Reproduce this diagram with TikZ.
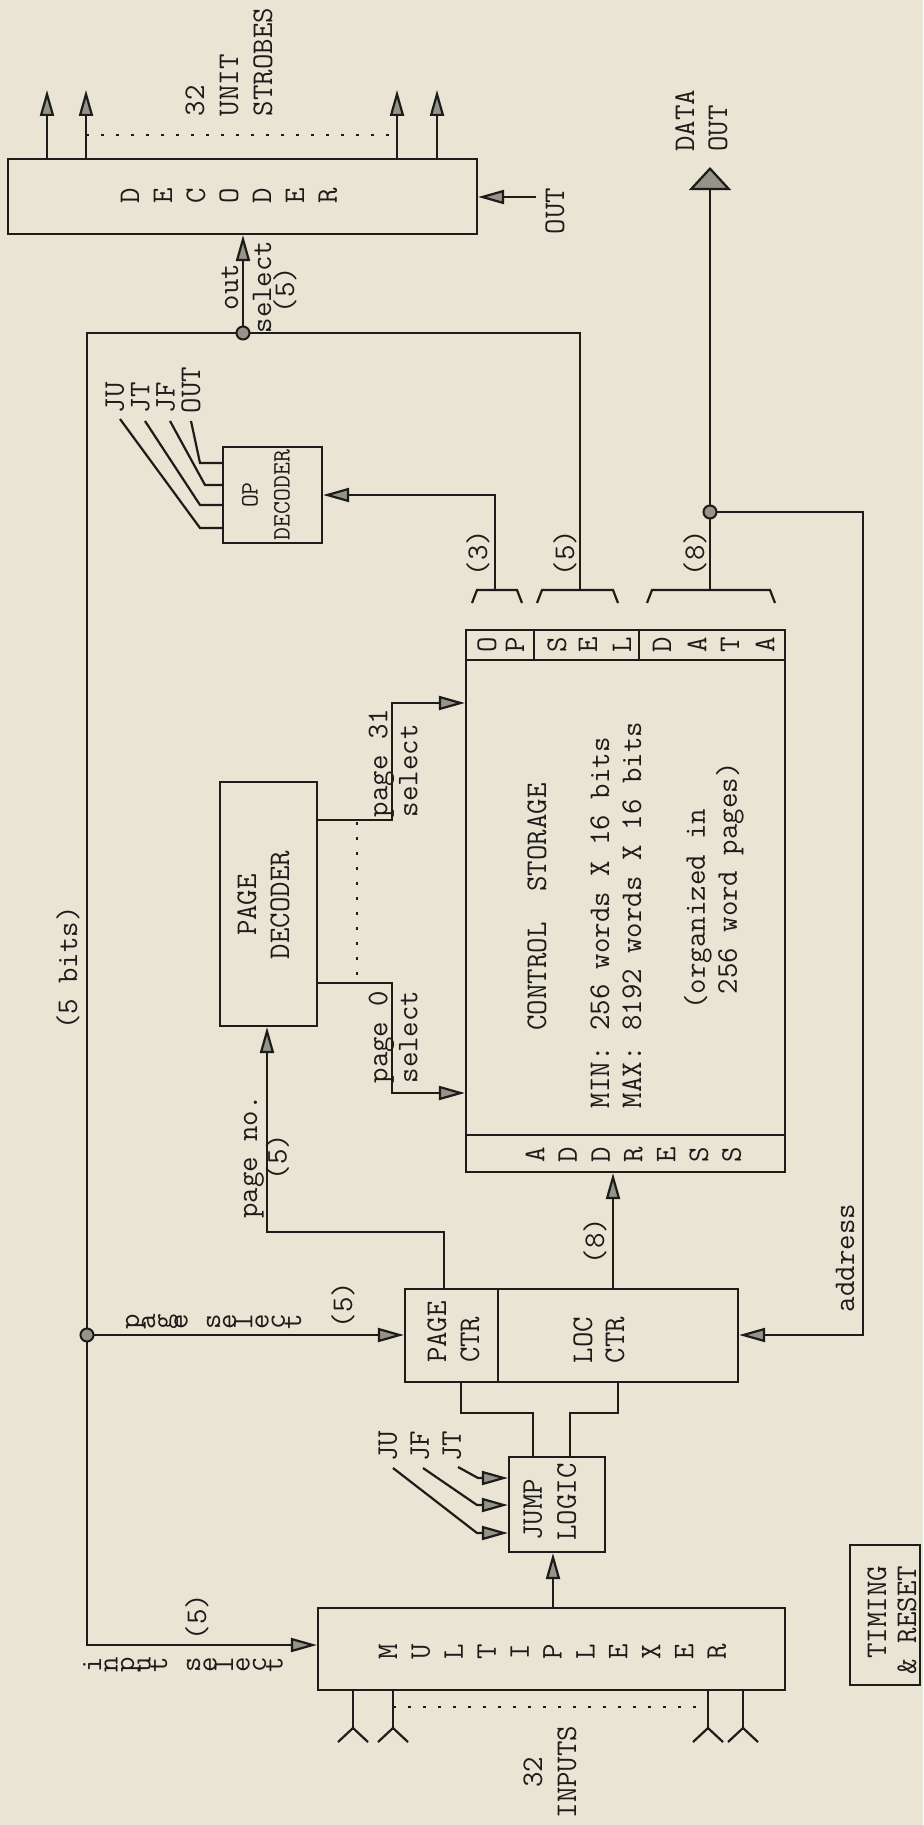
\documentclass[tikz,border=0pt]{standalone}
\usetikzlibrary{arrows.meta,fit,calc}
\definecolor{paper}{RGB}{234,228,212}
\definecolor{ink}{RGB}{28,28,26}
\definecolor{tipfill}{RGB}{150,148,138}
\newcommand{\fsz}[1]{\fontsize{15}{#1}\ttfamily\selectfont}
\newcommand{\fszsmall}{\fontsize{12.5}{16}\ttfamily\selectfont}
\begin{document}
\begin{tikzpicture}[x=0.5pt,y=-0.5pt,line width=1.1pt,color=ink,
  >={Triangle[length=13pt,width=7pt,fill=tipfill]},
  bigarrow/.style={-{Triangle[length=11.5pt,width=21pt,fill=tipfill]}},
  box/.style={draw,inner sep=0pt},
  txt/.style={rotate=90,inner sep=0pt,font={\fsz{17}}},
  stk/.style={rotate=90,inner sep=0pt,anchor=base,font={\fsz{17}}},
  dotline/.style={line width=1.3pt,dash pattern=on 1.5pt off 6pt},
  junc/.style={circle,draw,fill=tipfill,minimum size=6.5pt,inner sep=0pt,line width=1pt}]
\useasboundingbox (0,0) rectangle (923,1825);
\fill[paper] (0,0) rectangle (923,1825);

% ---------------- boxes ----------------
\node[box,fit={(8,159)(477,234)}] (dec) {};
\node[box,fit={(466,630)(785,1172)}] (cs) {};
\node[box,fit={(223,447)(322,543)}] (od) {};
\node[box,fit={(220,782)(317,1026)}] (pd) {};
\node[box,fit={(405,1289)(498,1382)}] (pc) {};
\node[box,fit={(498,1289)(738,1382)}] (lc) {};
\node[box,fit={(509,1457)(605,1552)}] (jl) {};
\node[box,fit={(318,1608)(785,1690)}] (mux) {};
\node[box,fit={(850,1545)(920,1685)}] (tr) {};

% control storage field strips
\draw (466,660) -- (785,660);
\draw (466,1135) -- (785,1135);
\draw (534,630) -- (534,660);
\draw (639,630) -- (639,660);

% ---------------- stacked letters ----------------
\foreach \ch [count=\i from 0] in {D,E,C,O,D,E,R}
  \node[txt] (decl\i) at ({130+33*\i},196) {\ch};
\foreach \ch/\xx [count=\i] in {O/487,P/515,S/557,E/588,L/622,D/662,A/697,T/730,A/765}
  \node[txt] (fld\i) at (\xx,645) {\ch};
\foreach \ch [count=\i from 0] in {A,D,D,R,E,S,S}
  \node[txt] (adl\i) at ({535+32.8*\i},1155) {\ch};
\foreach \ch [count=\i from 0] in {M,U,L,T,I,P,L,E,X,E,R}
  \node[txt] (muxl\i) at ({388+32.9*\i},1652) {\ch};
\foreach \ch/\k [count=\i] in {p/0,a/1,g/2,e/3,s/5,e/6,l/7,e/8,c/9,t/10}
  \node[stk] (psl\i) at ({139+16.2*\k},1322) {\ch};
\foreach \ch/\k [count=\i] in {i/0,n/1,p/2,u/3,t/4,s/6,e/7,l/8,e/9,c/10,t/11}
  \node[stk] (isl\i) at ({101+16.5*\k},1665) {\ch};

% ---------------- texts ----------------
\node[txt,align=left] (strb) at (229,62) {32\\UNIT\\STROBES};
\node[txt,align=center,font={\fsz{16.5}}] (outsel) at (246.5,287) {out\\select};
\node[txt] (outsel5) at (285,290) {(5)};
\node[txt] (outlbl) at (555,211) {OUT};
\node[txt,align=left,font={\fsz{16.5}}] (dataout) at (701.5,121) {DATA\\OUT};
\node[txt,align=left,font={\fsz{12.7}}] (odouts) at (153,390) {JU\\JT\\JF\\OUT};
\node[txt,align=center,font={\fszsmall}] (odl) at (266,495) {OP\\DECODER};
\node[txt] (bits) at (68,968) {(5 bits)};
\node[txt,align=left,font={\fsz{15}}] (p31l) at (393,763) {page 31\\select};
\node[txt,align=left,font={\fsz{15}}] (p0l) at (393,1037) {page 0\\select};
\node[txt,align=center,font={\fsz{16.5}}] (pdl) at (263.5,905) {PAGE\\DECODER};
\node[txt,align=center,font={\fsz{13.5}}] (pnl) at (266.5,1157) {page no.\\(5)};
\node[txt] (ps5) at (343,1305) {(5)};
\node[txt,align=left,font={\fsz{16.5}}] (pcl) at (453.5,1332) {PAGE\\CTR};
\node[txt,align=left,font={\fsz{16}}] (lcl) at (599,1340) {LOC\\CTR};
\node[txt,align=left,font={\fsz{17}}] (jll) at (550,1502) {JUMP\\LOGIC};
\node[txt,align=left,font={\fsz{16}}] (jin) at (420,1446) {JU\\JF\\JT};
\node[txt] (a8) at (595,1241) {(8)};
\node[txt] (addr) at (845,1258) {address};
\node[txt] (csl) at (537,907) {CONTROL\ \ STORAGE};
\node[txt,align=left,font={\fsz{16}}] (minmax) at (616,915) {MIN: 256 words X 16 bits\\MAX: 8192 words X 16 bits};
\node[txt,align=left,font={\fsz{16}}] (org) at (714,886) {(organized in\\\phantom{x}256 word pages)};
\node[txt] (op3) at (478,553) {(3)};
\node[txt] (sel5) at (565,553) {(5)};
\node[txt] (dat8) at (695,553) {(8)};
\node[txt] (is5) at (197,1617) {(5)};
\node[txt,align=center] (inp) at (550,1772) {32\\INPUTS};
\node[txt,align=right,font={\fsz{15}}] (trl) at (892,1620) {TIMING\\\& RESET};

% ---------------- coordinates ----------------
\coordinate (s1) at (47,90);
\coordinate (s2) at (86,90);
\coordinate (s3) at (397,90);
\coordinate (s4) at (437,90);
\coordinate (d1) at (86,135);
\coordinate (d2) at (397,135);
\coordinate (jA) at (243,333);
\coordinate (jB) at (87,1335);
\coordinate (jC) at (710,512);
\coordinate (outin) at (536,197);
\coordinate (opbr) at (495,590);
\coordinate (selbr) at (580,590);
\coordinate (databr) at (710,590);
\coordinate (dout) at (710,167);
\coordinate (busTR) at (580,333);
\coordinate (busTL) at (87,333);
\coordinate (busBL) at (87,1645);

% ---------------- connectors ----------------
\foreach \s in {s1,s2,s3,s4} \draw[->] (\s |- dec.north) -- (\s);
\draw[dotline] (d1) -- (d2);
\draw[->] (jA) -- (jA |- dec.south);
\draw[->] (outin) -- (outin -| dec.east);

% brackets
\draw (472,603) -- (477,590) -- (517,590) -- (522,603);
\draw (537,603) -- (542,590) -- (613,590) -- (618,603);
\draw (647,603) -- (652,590) -- (770,590) -- (775,603);

% bus
\draw[->] (selbr) -- (busTR) -- (busTL) -- (busBL) -- (busBL -| mux.west);
\draw[->] (jB) -- (jB -| pc.west);

% op field -> op decoder
\draw[->] (opbr) |- (od.east);
% op decoder outputs
\coordinate (o1) at (200,463);
\coordinate (o2) at (205,485);
\coordinate (o3) at (200,505);
\coordinate (o4) at (200,528);
\draw (191,421) -- (o1) -- (o1 -| od.west);
\draw (170,421) -- (o2) -- (o2 -| od.west);
\draw (145,421) -- (o3) -- (o3 -| od.west);
\draw (120,419) -- (o4) -- (o4 -| od.west);

% data out and address feedback
\draw[bigarrow] (databr) -- (dout);
\coordinate (adA) at (863,512);
\coordinate (adB) at (863,1335);
\draw[->] (jC) -- (adA) -- (adB) -- (adB -| lc.east);

% page decoder outputs
\coordinate (p31a) at (392,820);
\coordinate (p31b) at (392,703);
\coordinate (p0a) at (392,983);
\coordinate (p0b) at (392,1093);
\draw[->] (p31a -| pd.east) -- (p31a) -- (p31b) -- (p31b -| cs.west);
\draw[->] (p0a -| pd.east) -- (p0a) -- (p0b) -- (p0b -| cs.west);
\draw[dotline] (357,822) -- (357,983);

% page no.
\coordinate (pnA) at (444,1232);
\coordinate (pnB) at (267,1232);
\draw[->] (pnA |- pc.north) -- (pnA) -- (pnB) -- (pnB |- pd.south);

% loc ctr -> address
\coordinate (la) at (613,1250);
\draw[->] (la |- lc.north) -- (la |- cs.south);

% mux -> jump logic
\coordinate (mj) at (553,1580);
\draw[->] (mj |- mux.north) -- (mj |- jl.south);

% jump logic -> counters
\coordinate (jlA) at (533,1413);
\coordinate (jlB) at (461,1413);
\coordinate (jlC) at (570,1413);
\coordinate (jlD) at (618,1413);
\draw (jlA |- jl.north) -- (jlA) -- (jlB) -- (jlB |- pc.south);
\draw (jlC |- jl.north) -- (jlC) -- (jlD) -- (jlD |- lc.south);

% JU JF JT inputs
\coordinate (ju) at (477,1533);
\coordinate (jf) at (477,1505);
\coordinate (jt) at (478,1478);
\draw[->] (393,1468) -- (ju) -- (ju -| jl.west);
\draw[->] (423,1468) -- (jf) -- (jf -| jl.west);
\draw[->] (458,1467) -- (jt) -- (jt -| jl.west);

% inputs
\foreach \xx in {353,393,708,743} {
  \draw (\xx,1690) -- (\xx,1728);
  \draw ({\xx-15},1742) -- (\xx,1728) -- ({\xx+15},1742);
}
\draw[dotline] (393,1707) -- (708,1707);

% junctions
\node[junc] (jAc) at (jA) {};
\node[junc] (jBc) at (jB) {};
\node[junc] (jCc) at (jC) {};
\end{tikzpicture}
\end{document}
